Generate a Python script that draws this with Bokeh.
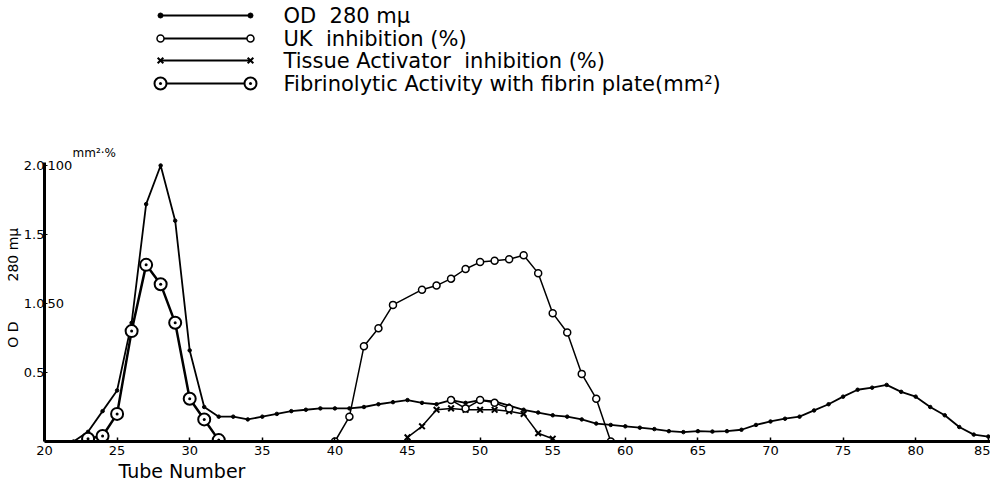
from bokeh.plotting import figure
from bokeh.models import Range1d, FixedTicker, Title
from bokeh.embed import file_html
from bokeh.resources import INLINE
from bokeh.core.properties import value

# ---------------- data ----------------
od_tube = list(range(22, 86))
od_val = [0.0, 0.07, 0.22, 0.37, 0.86, 1.72, 2.0, 1.6, 0.66, 0.25,
          0.18, 0.18, 0.16, 0.18, 0.20, 0.22, 0.23, 0.24, 0.24, 0.24,
          0.25, 0.27, 0.285, 0.30, 0.28, 0.27, 0.30, 0.28, 0.30, 0.29,
          0.26, 0.23, 0.21, 0.19, 0.18, 0.16, 0.13, 0.12, 0.11, 0.10,
          0.09, 0.075, 0.068, 0.075, 0.072, 0.075, 0.085, 0.12, 0.145, 0.165,
          0.18, 0.225, 0.27, 0.325, 0.375, 0.39, 0.41, 0.36, 0.325, 0.25,
          0.19, 0.105, 0.05, 0.036]

uk_tube = [40, 41, 42, 43, 44, 46, 47, 48, 49, 50, 51, 52, 53, 54, 55, 56, 57, 58, 59]
uk_pct = [0, 9, 34.5, 41, 49.5, 55, 56.5, 59, 62.5, 65, 65.5, 66, 67.5, 61, 46.5, 39.5, 24.5, 15.5, 0]

ta_tube = [45, 46, 47, 48, 49, 50, 51, 52, 53, 54, 55]
ta_pct = [1.5, 5.5, 11.5, 12, 11.5, 11.5, 11.5, 11, 10, 3, 1]

fib_tube = [23, 24, 25, 26, 27, 28, 29, 30, 31, 32]
fib_mm2 = [1, 2, 10, 40, 64, 57, 43, 15.5, 8, 0.5]
fib2_tube = [48, 49, 50, 51, 52]
fib2_mm2 = [15, 12, 15, 14, 12]

x_ticks = [20, 25, 30, 35, 40, 45, 50, 55, 60, 65, 70, 75, 80, 85]
od_ticks = [0.5, 1.0, 1.5, 2.0]
od_tick_labels = ["0.5", "1.0", "1.5", "2.0"]
pct_ticks = [100, 50]
PCT_PER_OD = 50.0

NB = "\u00a0"
legend_labels = ["OD" + NB * 2 + "280 mμ", "UK" + NB * 2 + "inhibition (%)",
                 "Tissue Activator" + NB * 2 + "inhibition (%)",
                 "Fibrinolytic Activity with fibrin plate(mm²)"]
# trailing no-break spaces move the centred vertical title down beside the 0-2.0 scale
y_title = "O" + NB + "D" + NB * 9 + "280" + NB + "mμ" + NB * 30
x_title = "Tube Number"

FONT = "DejaVu Sans"

# ---------------- layout ----------------
W, H = 990, 490
ML, MB = 44, 49
frame_w, frame_h = W - ML, H - MB
px_per_x = 14.52
px_per_y = 138.0
x0 = 20
x1 = x0 + frame_w / px_per_x
y1 = frame_h / px_per_y


def cy(canvas_y):
    return (frame_h - canvas_y) / px_per_y


def cx(canvas_x):
    return x0 + (canvas_x - ML) / px_per_x


p = figure(width=W, height=H, output_backend="svg", toolbar_location=None,
           x_range=Range1d(x0, x1), y_range=Range1d(0, y1),
           min_border_left=ML, min_border_right=0, min_border_top=0,
           min_border_bottom=MB)
p.outline_line_color = None
p.grid.visible = False
p.background_fill_color = "white"
p.border_fill_color = "white"

ax = p.xaxis[0]
ax.ticker = FixedTicker(ticks=x_ticks)
ax.axis_line_width = 3
ax.major_tick_in = 4
ax.major_tick_out = 0
ax.major_tick_line_width = 1.5
ax.minor_tick_line_color = None
ax.major_label_text_font = FONT
ax.major_label_text_font_size = "13px"
ax.major_label_text_color = "black"
ax.major_label_standoff = 4

p.add_layout(Title(text=x_title, align="left", offset=74, standoff=0,
                   text_font=FONT, text_font_size="19px",
                   text_font_style="normal", text_color="black"), "below")

ay = p.yaxis[0]
ay.ticker = FixedTicker(ticks=od_ticks)
ay.major_label_overrides = {t: l for t, l in zip(od_ticks, od_tick_labels)}
ay.bounds = (0, 2.02)
ay.axis_line_width = 3
ay.major_tick_in = 3
ay.major_tick_out = 0
ay.minor_tick_line_color = None
ay.major_label_text_font = FONT
ay.major_label_text_font_size = "13px"
ay.major_label_text_color = "black"
ay.major_label_standoff = 0
ay.axis_label = y_title
ay.axis_label_text_font = FONT
ay.axis_label_text_font_size = "14px"
ay.axis_label_text_font_style = "normal"
ay.axis_label_text_color = "black"
ay.axis_label_standoff = 0

# secondary scale labels (mm², %)
p.text(x=[x0] * len(pct_ticks), y=[v / PCT_PER_OD for v in pct_ticks],
       text=[str(v) for v in pct_ticks], x_offset=3,
       text_font=value(FONT), text_font_size="13px", text_baseline="middle",
       text_align="left", text_color="black")
p.text(x=[cx(72)], y=[cy(152)], text=["mm²·%"], text_font=value(FONT),
       text_font_size="12px", text_baseline="middle", text_align="left",
       text_color="black")

# ---------------- series ----------------
p.line(od_tube, od_val, line_color="black", line_width=1.8)
p.scatter(od_tube, od_val, marker="circle", size=3.5, color="black")

uk_y = [v / PCT_PER_OD for v in uk_pct]
p.line(uk_tube, uk_y, line_color="black", line_width=1.5)
p.scatter(uk_tube, uk_y, marker="circle", size=7, line_color="black",
          line_width=1.5, fill_color="white")

ta_y = [v / PCT_PER_OD for v in ta_pct]
p.line(ta_tube, ta_y, line_color="black", line_width=1.5)
p.scatter(ta_tube, ta_y, marker="x", size=8, line_color="black", line_width=2)

fib_y = [v / PCT_PER_OD for v in fib_mm2]
p.line(fib_tube, fib_y, line_color="black", line_width=2.5)
p.scatter(fib_tube, fib_y, marker="circle_dot", size=12, line_color="black",
          line_width=2, fill_color="white")

fib2_y = [v / PCT_PER_OD for v in fib2_mm2]
p.line(fib2_tube, fib2_y, line_color="black", line_width=1.5)
p.scatter(fib2_tube, fib2_y, marker="circle", size=7, line_color="black",
          line_width=1.5, fill_color="white")

# ---------------- legend (drawn manually) ----------------
leg_rows = [cy(15), cy(38), cy(60), cy(83)]
lx0, lx1, ltx = cx(160), cx(250), cx(283)
styles = [
    dict(marker="circle", size=5, fill_color="black", line_width=1),
    dict(marker="circle", size=7, fill_color="white", line_width=1.5),
    dict(marker="x", size=8, fill_color="black", line_width=2),
    dict(marker="circle_dot", size=12, fill_color="white", line_width=2),
]
for yy, st, lab in zip(leg_rows, styles, legend_labels):
    p.line([lx0, lx1], [yy, yy], line_color="black", line_width=2)
    p.scatter([lx0, lx1], [yy, yy], marker=st["marker"], size=st["size"],
              line_color="black", fill_color=st["fill_color"],
              line_width=st["line_width"])
    p.text(x=[ltx], y=[yy], text=[lab], text_font=value(FONT),
           text_font_size="21px", text_baseline="middle", text_align="left",
           text_color="black")

open("out.html", "w").write(file_html(p, INLINE))
